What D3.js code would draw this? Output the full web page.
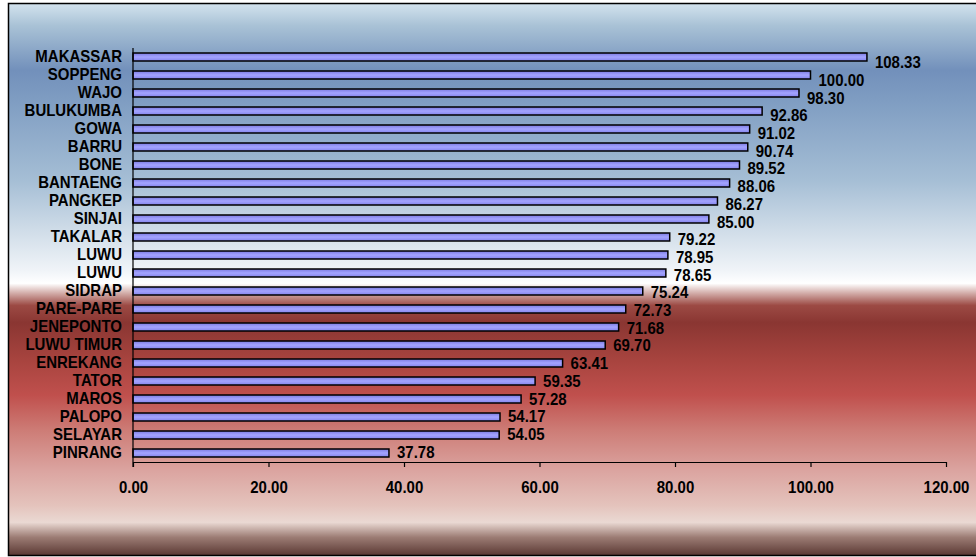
<!DOCTYPE html>
<meta charset="utf-8">
<style>
body { margin: 0; background: #fff; }
text { font-family: "Liberation Sans", Arial, sans-serif; font-weight: bold; fill: #000; }
</style>
<svg width="976" height="557"></svg>
<script src="https://d3js.org/d3.v7.min.js"></script>
<script>

var regions = ["MAKASSAR", "SOPPENG", "WAJO", "BULUKUMBA", "GOWA", "BARRU", "BONE", "BANTAENG",
  "PANGKEP", "SINJAI", "TAKALAR", "LUWU", "LUWU ", "SIDRAP", "PARE-PARE", "JENEPONTO",
  "LUWU TIMUR", "ENREKANG", "TATOR", "MAROS", "PALOPO", "SELAYAR", "PINRANG"];

var values = [108.33, 100.00, 98.30, 92.86, 91.02, 90.74, 89.52, 88.06, 86.27, 85.00, 79.22,
  78.95, 78.65, 75.24, 72.73, 71.68, 69.70, 63.41, 59.35, 57.28, 54.17, 54.05, 37.78];

var xTicks = [0, 20, 40, 60, 80, 100, 120];

var svg = d3.select("svg");
var defs = svg.append("defs");

// background gradient, blue on top, red below
var bg = defs.append("linearGradient")
    .attr("id", "bg")
    .attr("x1", 0).attr("y1", 0).attr("x2", 0).attr("y2", 1);
[[0, "#d3e3ee"], [0.04, "#a9c2d6"], [0.121, "#7290bb"], [0.176, "#7f9dc2"], [0.32, "#a5bed5"],
 [0.41, "#cfdce8"], [0.484, "#f0f4f8"], [0.507, "#ffffff"], [0.524, "#d4b0ac"], [0.547, "#9c4a44"],
 [0.578, "#8a3632"], [0.647, "#a8443f"], [0.71, "#c0504d"], [0.773, "#cd7c76"], [0.846, "#dba4a0"],
 [0.909, "#e4c3bc"], [0.94, "#ead9d3"], [0.967, "#9c7c74"], [1, "#5a3833"]]
  .forEach(function(s) {
    bg.append("stop").attr("offset", s[0]).attr("stop-color", s[1]);
  });

var barGrad = defs.append("linearGradient")
    .attr("id", "bar")
    .attr("x1", 0).attr("y1", 0).attr("x2", 0).attr("y2", 1);
barGrad.append("stop").attr("offset", 0).attr("stop-color", "#7a7ae0");
barGrad.append("stop").attr("offset", 0.5).attr("stop-color", "#a4a4ff");
barGrad.append("stop").attr("offset", 1).attr("stop-color", "#8484ec");

svg.append("rect")
    .attr("x", 8.5).attr("y", 3.5)
    .attr("width", 980).attr("height", 552)
    .attr("fill", "url(#bg)")
    .attr("stroke", "#000")
    .attr("stroke-width", 1.5);

var x = d3.scaleLinear()
    .domain([0, 120])
    .range([133, 946]);

var y = d3.scaleBand()
    .domain(d3.range(regions.length))
    .range([48, 462]);

function mid(i) { return y(i) + y.bandwidth() / 2; }

// text is a bit taller than wide in the original
function tall(px, py) { return "translate(" + px + "," + py + ") scale(1,1.15)"; }

var g = svg.append("g");

// bars
g.selectAll("rect.bar")
  .data(values)
  .enter().append("rect")
    .attr("class", "bar")
    .attr("x", x(0))
    .attr("y", function(d, i) { return mid(i) - 4; })
    .attr("width", function(d) { return x(d) - x(0); })
    .attr("height", 8)
    .attr("fill", "url(#bar)")
    .attr("stroke", "#000")
    .attr("stroke-width", 1.5);

// value labels (drift up a little towards the bottom, like the original)
var n = values.length;
g.selectAll("text.val")
  .data(values)
  .enter().append("text")
    .attr("class", "val")
    .attr("transform", function(d, i) {
      var off = 5 - 6.5 * i / (n - 1);
      return tall(x(d) + 8, mid(i) + off + 6.2);
    })
    .attr("font-size", 15)
    .text(function(d) { return d.toFixed(2); });

// category labels
g.selectAll("text.cat")
  .data(regions)
  .enter().append("text")
    .attr("class", "cat")
    .attr("transform", function(d, i) { return tall(122, mid(i) + 5); })
    .attr("text-anchor", "end")
    .attr("font-size", 15)
    .text(function(d) { return d.trim(); });

// y axis line
svg.append("line")
    .attr("x1", x(0)).attr("x2", x(0))
    .attr("y1", 48).attr("y2", 467)
    .attr("stroke", "#000").attr("stroke-width", 1.2);

// x axis
var xAxis = svg.append("g")
    .attr("transform", "translate(0,462)")
    .call(d3.axisBottom(x)
      .tickValues(xTicks)
      .tickSize(5)
      .tickSizeOuter(0)
      .tickFormat(function(d) { return d.toFixed(2); }));

xAxis.select(".domain").attr("stroke", "#000").attr("stroke-width", 1.2);
xAxis.selectAll(".tick line").attr("stroke", "#000").attr("stroke-width", 1.2);
xAxis.selectAll(".tick text")
    .attr("y", null)
    .attr("dy", null)
    .attr("transform", tall(0, 31))
    .attr("font-size", 15)
    .attr("font-family", "'Liberation Sans', Arial, sans-serif")
    .attr("font-weight", "bold")
    .attr("fill", "#000");

</script>
